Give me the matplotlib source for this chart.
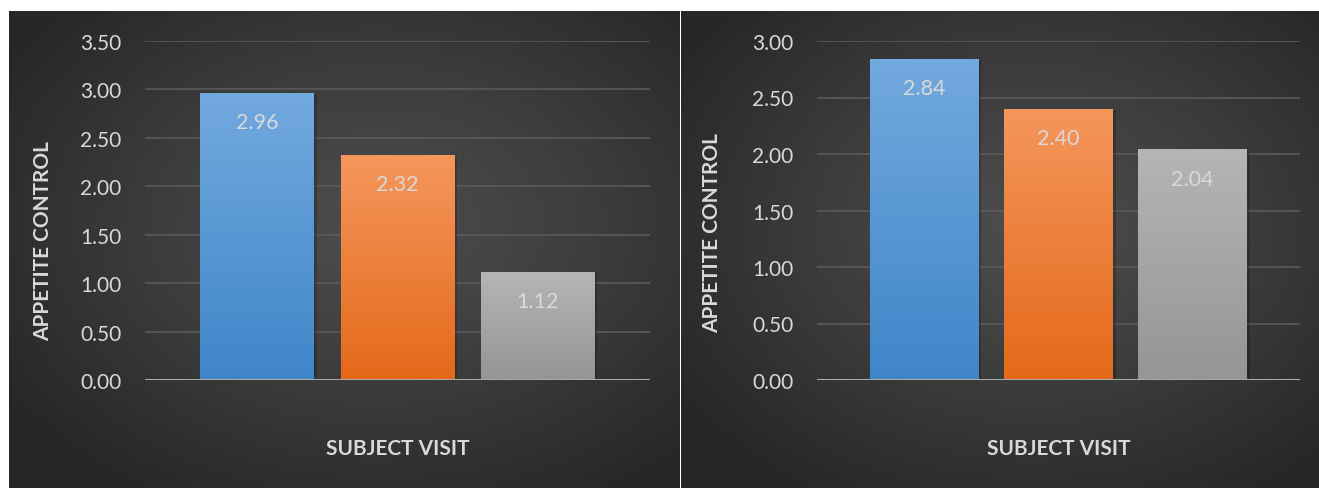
import numpy as np
import matplotlib
matplotlib.use('Agg')
from matplotlib import pyplot as plt
from matplotlib import patheffects as pe
from matplotlib.colors import LinearSegmentedColormap

plt.rcParams['font.family'] = ['Lato', 'DejaVu Sans']

# data
seriesNames = ['Visit 1', 'Visit 2', 'Visit 3']
leftValues = [2.96, 2.32, 1.12]
rightValues = [2.84, 2.40, 2.04]
leftTicks = [0.0, 0.5, 1.0, 1.5, 2.0, 2.5, 3.0, 3.5]
rightTicks = [0.0, 0.5, 1.0, 1.5, 2.0, 2.5, 3.0]
yLabel = 'APPETITE CONTROL'
xLabel = 'SUBJECT VISIT'

# top colour, bottom colour of each bar
barColors = [('#72a9de', '#3f86c9'), ('#f5965c', '#e4691a'), ('#b5b5b5', '#959595')]
textColor = '#d9d9d9'

W, H = 1319, 489
fig = plt.figure(figsize=(W / 100, H / 100), dpi=100)
fig.patch.set_facecolor('white')


def px(x0, y0, x1, y1):
    # pixel box (top-left origin) -> figure fraction rect
    return [x0 / W, 1 - y1 / H, (x1 - x0) / W, (y1 - y0) / H]


def background(rect):
    bg = fig.add_axes(rect, zorder=0)
    ny, nx = 300, 400
    yy, xx = np.mgrid[0:1:ny * 1j, 0:1:nx * 1j]
    r = np.sqrt(((xx - 0.55) / 0.9) ** 2 + ((yy - 0.45) / 0.9) ** 2)
    cmap = LinearSegmentedColormap.from_list('bg', ['#4e4e4e', '#3c3c3c', '#262626'])
    bg.imshow(r, cmap=cmap, vmin=0, vmax=0.75, aspect='auto', extent=(0, 1, 0, 1))
    bg.set_axis_off()


def panel(rect, values, ticks, labelX, labelY, xlabY):
    ax = fig.add_axes(rect, zorder=2)
    ax.patch.set_alpha(0)
    x = np.arange(len(values)) - 1
    bars = ax.bar(x, values, width=0.81, zorder=3)
    for b, (top, bot) in zip(bars, barColors):
        b.set_facecolor(bot)
        b.set_edgecolor('none')
        b.set_path_effects([pe.SimplePatchShadow(offset=(2, -1), shadow_rgbFace='black', alpha=0.2), pe.Normal()])
        cm = LinearSegmentedColormap.from_list('b', [bot, top])
        grad = np.linspace(0, 1, 100).reshape(-1, 1)
        im = ax.imshow(grad, cmap=cm, origin='lower', aspect='auto', zorder=4,
                       extent=(b.get_x(), b.get_x() + b.get_width(), 0, b.get_height()))
        im.set_clip_path(b)
        ax.annotate('%.2f' % b.get_height(), (b.get_x() + b.get_width() / 2, b.get_height()),
                    xytext=(0, -21), textcoords='offset points', ha='center', va='center',
                    color=textColor, fontsize=15.5, zorder=5)
    ax.set_xlim(-1.80, 1.80)
    ax.set_ylim(0, ticks[-1])
    ax.set_yticks(ticks)
    ax.set_yticklabels(['%.2f' % t for t in ticks], color=textColor, fontsize=15)
    ax.tick_params(axis='y', length=0, pad=17)
    ax.set_xticks([])
    ax.yaxis.grid(True, color='#5a5a5a', lw=1.2, zorder=1)
    ax.axhline(0, color='#a9a9a9', lw=2.2, zorder=6)
    for s in ax.spines.values():
        s.set_visible(False)
    fig.text(labelX / W, 1 - labelY / H, yLabel, rotation=90, ha='center', va='center',
             color=textColor, fontsize=15, fontweight='bold')
    cx = (rect[0] + rect[2] / 2)
    fig.text(cx, 1 - xlabY / H, xLabel, ha='center', va='center',
             color=textColor, fontsize=15, fontweight='bold')
    return ax


background(px(9, 12, 680, 489))
background(px(681, 12, 1319, 489))

panel(px(145, 42, 650, 381), leftValues, leftTicks, 43, 241, 449)
panel(px(817, 42, 1300, 381), rightValues, rightTicks, 712, 233, 449)

fig.savefig('out.png', dpi=100, facecolor='white')
